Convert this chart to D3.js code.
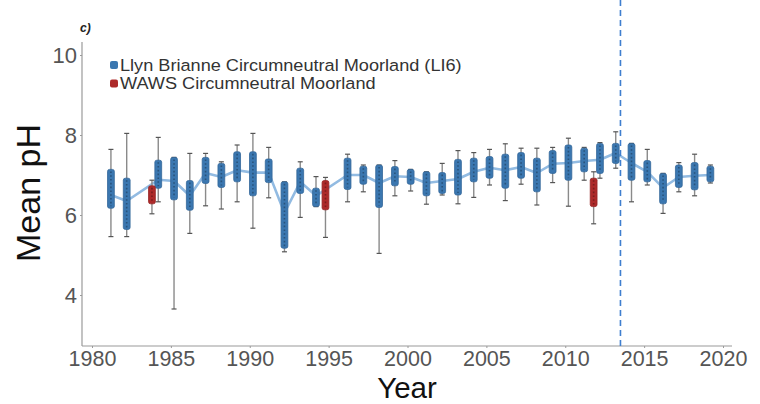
<!DOCTYPE html>
<html>
<head>
<meta charset="utf-8">
<script src="https://cdn.jsdelivr.net/npm/d3@7"></script>
<style>
  html, body { margin: 0; padding: 0; background: #ffffff; }
  svg { display: block; font-family: "Liberation Sans", Arial, Helvetica, sans-serif; }
</style>
</head>
<body>
<svg id="chart" width="760" height="404"></svg>
<script>
// Llyn Brianne (LI6) yearly pH distributions
const blueYears = [1981,1982,1984,1985,1986,1987,1988,1989,1990,1991,1992,1993,1994,1996,1997,1998,1999,
                   2000,2001,2002,2003,2004,2005,2006,2007,2008,2009,2010,2011,2012,2013,2014,2015,2016,2017,2018,2019];
const blueLow   = [5.46,5.46,6.33,3.65,5.54,6.23,6.15,6.33,5.67,6.43,5.08,5.94,6.21,6.33,6.58,5.04,6.48,
                   6.60,6.27,6.50,6.28,6.44,6.75,6.36,6.77,6.25,6.81,6.22,6.87,6.92,7.17,6.33,6.75,6.04,6.58,6.48,6.80];
const blueQ1    = [6.17,5.64,6.67,6.38,6.12,6.79,6.69,6.83,6.48,6.81,5.17,6.54,6.21,6.64,6.77,6.19,6.73,
                   6.77,6.48,6.54,6.50,6.83,6.92,6.67,6.92,6.58,7.04,6.87,7.08,7.04,7.29,6.87,6.83,6.28,6.69,6.63,6.83];
const blueQ3    = [7.14,6.92,7.37,7.44,6.86,7.44,7.29,7.58,7.58,7.40,6.83,7.17,6.67,7.42,7.22,7.25,7.21,
                   7.14,7.08,7.06,7.39,7.42,7.46,7.52,7.56,7.42,7.61,7.75,7.67,7.79,7.79,7.79,7.36,7.04,7.25,7.31,7.22];
const blueHigh  = [7.64,8.04,7.94,7.44,7.54,7.54,7.33,7.75,8.04,7.69,6.83,7.33,6.96,7.52,7.25,7.25,7.36,
                   7.14,7.08,7.29,7.61,7.56,7.64,7.78,7.67,7.67,7.69,7.92,7.69,7.81,8.08,7.79,7.64,7.04,7.31,7.52,7.25];
const blueMean  = [6.50,6.35,6.88,6.85,6.48,7.05,6.95,7.12,7.06,7.06,6.05,6.83,6.48,7.00,7.00,6.80,6.97,
                   6.95,6.80,6.85,6.90,7.08,7.18,7.12,7.20,7.05,7.28,7.30,7.35,7.38,7.55,7.30,7.08,6.68,6.95,6.98,7.00];

// WAWS circumneutral moorland sites
const redYears = [1984, 1995, 2012];
const redLow   = [6.03, 5.44, 5.78];
const redQ1    = [6.28, 6.13, 6.21];
const redQ3    = [6.73, 6.86, 6.92];
const redHigh  = [6.87, 6.94, 7.08];

const xTicks = [1980, 1985, 1990, 1995, 2000, 2005, 2010, 2015, 2020];
const yTicks = [4, 6, 8, 10];
const seriesNames = ["Llyn Brianne Circumneutral Moorland (LI6)", "WAWS Circumneutral Moorland"];
const breakYear = 2013.5;

const svg = d3.select("#chart");
const blue = "#3b77b0", red = "#ad2a2a";
const axisGrey = "#9a9a9a", textGrey = "#555555";

const x = d3.scaleLinear().domain([1980, 2020]).range([92, 723]);
const y = d3.scaleLinear().domain([4, 10]).range([295, 55]);
const plotLeft = 82, plotRight = 732, plotBottom = 346, plotTop = 42;
const dodge = 0.2, boxW = 6.8;

// axes
const xAxis = svg.append("g").attr("transform", `translate(0,${plotBottom})`)
  .call(d3.axisBottom(x).tickValues(xTicks).tickFormat(d3.format("d")).tickSize(2).tickPadding(3));
const yAxis = svg.append("g").attr("transform", `translate(${plotLeft},0)`)
  .call(d3.axisLeft(y).tickValues(yTicks).tickFormat(d3.format("d")).tickSize(2).tickPadding(3));
[xAxis, yAxis].forEach(g => {
  g.select(".domain").remove();
  g.selectAll(".tick line").attr("stroke", axisGrey);
  g.selectAll(".tick text").attr("fill", textGrey).style("font-size", "22px");
});
xAxis.selectAll(".tick text").style("font-size", "21.5px");
svg.append("line").attr("x1", plotLeft).attr("x2", plotRight).attr("y1", plotBottom).attr("y2", plotBottom)
  .attr("stroke", axisGrey).attr("stroke-width", 1.2);
svg.append("line").attr("x1", plotLeft).attr("x2", plotLeft).attr("y1", plotTop).attr("y2", plotBottom)
  .attr("stroke", axisGrey).attr("stroke-width", 1.2);

// axis titles
svg.append("text").attr("x", 407).attr("y", 397.5).attr("text-anchor", "middle")
  .style("font-size", "29.5px").attr("fill", "#111").text("Year");
svg.append("text").attr("transform", "translate(40,193) rotate(-90)").attr("text-anchor", "middle")
  .style("font-size", "34px").attr("fill", "#111").text("Mean pH");
svg.append("text").attr("x", 80).attr("y", 32).style("font-size", "12px")
  .style("font-weight", "bold").style("font-style", "italic").attr("fill", "#222").text("c)");

// mean trend line for LI6
const meanLine = d3.line().x((d, i) => x(blueYears[i] + dodge)).y(d => y(d));
svg.append("path").datum(blueMean).attr("d", meanLine)
  .attr("fill", "none").attr("stroke", "#92bbe2").attr("stroke-width", 2.6).attr("stroke-linejoin", "round");

// box-and-whisker drawing
function drawBoxes(years, lo, q1, q3, hi, offset, color) {
  const g = svg.append("g");
  years.forEach((yr, i) => {
    const cx = x(yr + offset);
    g.append("line").attr("x1", cx).attr("x2", cx).attr("y1", y(hi[i])).attr("y2", y(lo[i]))
      .attr("stroke", "#8a8a8a").attr("stroke-width", 1.4);
    [hi[i], lo[i]].forEach(v => {
      g.append("line").attr("x1", cx - 2.5).attr("x2", cx + 2.5).attr("y1", y(v)).attr("y2", y(v))
        .attr("stroke", "#555").attr("stroke-width", 1.2);
    });
    g.append("rect").attr("x", cx - boxW / 2).attr("width", boxW)
      .attr("y", y(q3[i])).attr("height", y(q1[i]) - y(q3[i]))
      .attr("rx", 2).attr("fill", color).attr("stroke", d3.color(color).darker(0.4)).attr("stroke-width", 0.8);
    g.append("line").attr("x1", cx).attr("x2", cx).attr("y1", y(q3[i]) + 2).attr("y2", y(q1[i]) - 2)
      .attr("stroke", d3.color(color).darker(1.3)).attr("stroke-width", 1.6)
      .attr("stroke-dasharray", "1.6,2.2").attr("opacity", 0.8);
  });
}
drawBoxes(blueYears, blueLow, blueQ1, blueQ3, blueHigh, dodge, blue);
drawBoxes(redYears, redLow, redQ1, redQ3, redHigh, -dodge, red);

// reference date line
svg.append("line").attr("x1", x(breakYear)).attr("x2", x(breakYear)).attr("y1", 0).attr("y2", plotBottom)
  .attr("stroke", "#3f7fcf").attr("stroke-width", 1.6).attr("stroke-dasharray", "6,4");

// legend
const legend = svg.append("g").attr("transform", "translate(110,0)");
[blue, red].forEach((c, i) => {
  const row = legend.append("g").attr("transform", `translate(0,${i * 18.5})`);
  row.append("rect").attr("x", 0).attr("y", 61).attr("width", 8).attr("height", 8).attr("rx", 2).attr("fill", c);
  row.append("text").attr("transform", "translate(10,70.5) scale(1.1,1)")
    .style("font-size", "16.5px").attr("fill", "#333").text(seriesNames[i]);
});
</script>
</body>
</html>
